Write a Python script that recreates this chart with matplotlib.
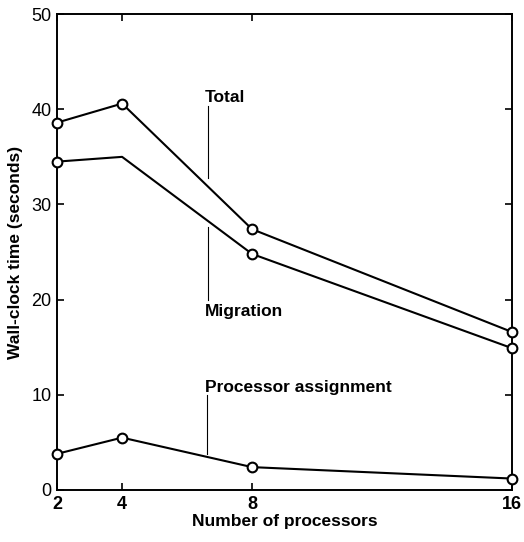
import matplotlib.pyplot as plt

# number of processors and timings (seconds)
procs = [2, 4, 8, 16]
total = [38.6, 40.6, 27.4, 16.6]
migration = [34.5, 35.0, 24.8, 14.9]
assignment = [3.8, 5.5, 2.4, 1.2]

plt.rcParams['font.family'] = ['Liberation Sans', 'DejaVu Sans']

fig = plt.figure(figsize=(5.24, 5.42), dpi=100)
ax = fig.add_axes([0.109, 0.096, 0.868, 0.878])

ax.plot(procs, total, color='black', lw=1.5, marker='o', ms=7, mfc='white', mec='black', mew=1.5, clip_on=False, zorder=3)
# migration curve has no marker at 4 processors
ax.plot(procs, migration, color='black', lw=1.5, zorder=3)
mig_pts = [0, 2, 3]
ax.plot([procs[i] for i in mig_pts], [migration[i] for i in mig_pts], ls='none', marker='o', ms=7,
        mfc='white', mec='black', mew=1.5, clip_on=False, zorder=4)
ax.plot(procs, assignment, color='black', lw=1.5, marker='o', ms=7, mfc='white', mec='black', mew=1.5, clip_on=False, zorder=3)

ax.set_xlim(2, 16)
ax.set_ylim(0, 50)
ax.set_xticks(procs)
ax.set_yticks([0, 10, 20, 30, 40, 50])
ax.tick_params(direction='in', top=True, right=True, length=5, width=1.2, labelsize=13, pad=4)
for lab in ax.get_xticklabels():
    lab.set_fontweight('bold')
for s in ax.spines.values():
    s.set_linewidth(1.4)

ax.set_xlabel('Number of processors', fontsize=12.5, fontweight='bold', labelpad=1)
ax.set_ylabel('Wall-clock time (seconds)', fontsize=12.5, fontweight='bold', labelpad=6)

# curve labels with leader lines
ax.text(6.55, 41.2, 'Total', fontsize=12.5, fontweight='bold', va='center')
ax.plot([6.65, 6.65], [40.3, 32.8], color='black', lw=0.8)
ax.plot([6.65, 6.65], [27.6, 20.0], color='black', lw=0.8)
ax.text(6.55, 18.7, 'Migration', fontsize=12.5, fontweight='bold', va='center')
ax.text(6.55, 10.8, 'Processor assignment', fontsize=12.5, fontweight='bold', va='center')
ax.plot([6.6, 6.6], [10.0, 3.8], color='black', lw=0.8)

plt.savefig('out.png', dpi=100)
